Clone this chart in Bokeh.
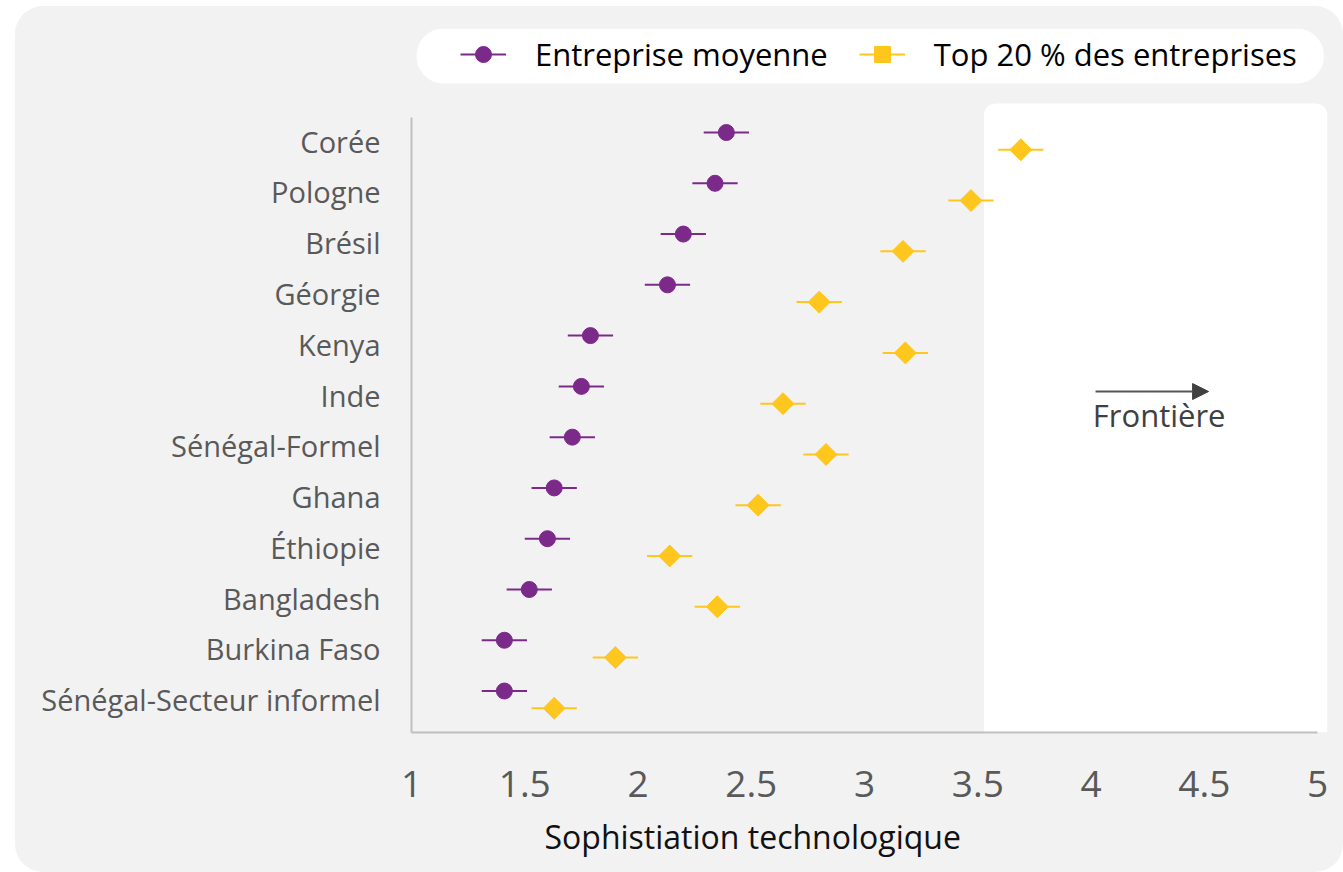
import numpy as np
from bokeh.plotting import figure
from bokeh.models import (Range1d, FixedTicker, NumeralTickFormatter, BoxAnnotation, Label, Title,
                          Arrow, NormalHead, Legend, LegendItem, ColumnDataSource)
from bokeh.embed import file_html
from bokeh.resources import INLINE

# ---------------- data ----------------
countries = ["Corée", "Pologne", "Brésil", "Géorgie", "Kenya", "Inde", "Sénégal-Formel",
             "Ghana", "Éthiopie", "Bangladesh", "Burkina Faso", "Sénégal-Secteur informel"]
average_firm = [2.39, 2.34, 2.20, 2.13, 1.79, 1.75, 1.71, 1.63, 1.60, 1.52, 1.41, 1.41]
average_err = [0.10, 0.10, 0.10, 0.10, 0.10, 0.10, 0.10, 0.10, 0.10, 0.10, 0.10, 0.10]
top20_firms = [3.69, 3.47, 3.17, 2.80, 3.18, 2.64, 2.83, 2.53, 2.14, 2.35, 1.90, 1.63]
top20_err = [0.10, 0.10, 0.10, 0.10, 0.10, 0.10, 0.10, 0.10, 0.10, 0.10, 0.10, 0.10]
series_names = ["Entreprise moyenne", "Top 20 % des entreprises"]
x_ticks = [1, 1.5, 2, 2.5, 3, 3.5, 4, 4.5, 5]
x_title = "Sophistiation technologique"
frontier_label = "Frontière"

# ---------------- style ----------------
PURPLE = "#7c2a8a"
YELLOW = "#ffc61e"
FONT = "Open Sans"
FRONTIER_BOX_LEFT = 3.527

idx = np.arange(len(countries))
OFF = 0.17

src_avg = ColumnDataSource(dict(
    y=idx - OFF, x=average_firm,
    lo=np.array(average_firm) - np.array(average_err),
    hi=np.array(average_firm) + np.array(average_err)))
src_top = ColumnDataSource(dict(
    y=idx + OFF, x=top20_firms,
    lo=np.array(top20_firms) - np.array(top20_err),
    hi=np.array(top20_firms) + np.array(top20_err)))

p = figure(width=1328, height=866,
           x_range=Range1d(1, 5.044), y_range=Range1d(11.647, -2.219),
           output_backend="svg", toolbar_location=None,
           min_border_left=396, min_border_right=16, min_border_top=22, min_border_bottom=140,
           background_fill_color="#f2f2f2", border_fill_alpha=0)
p.margin = (6, 0, 0, 15)
p.styles = {"background-color": "#f2f2f2", "border-radius": "28px"}
p.outline_line_color = None
p.grid.visible = False

# frontier white panel
p.add_layout(BoxAnnotation(left=FRONTIER_BOX_LEFT, top=-0.742, fill_color="white", fill_alpha=1,
                           line_color=None, level="underlay",
                           border_radius=dict(top_left=12, top_right=12, bottom_right=0, bottom_left=0)))
# legend white pill
p.add_layout(BoxAnnotation(left=1.022, right=5.028, bottom=-1.136, fill_color="white", fill_alpha=1,
                           line_color=None, level="underlay", border_radius=27))

seg_a = p.segment(x0="lo", x1="hi", y0="y", y1="y", source=src_avg, line_color=PURPLE, line_width=2)
dot_a = p.scatter(x="x", y="y", source=src_avg, marker="circle", size=16,
                  fill_color=PURPLE, line_color=PURPLE)
seg_t = p.segment(x0="lo", x1="hi", y0="y", y1="y", source=src_top, line_color=YELLOW, line_width=2)
dot_t = p.scatter(x="x", y="y", source=src_top, marker="square", size=15.5, angle=np.pi / 4,
                  fill_color=YELLOW, line_color=YELLOW)

# axes
xa = p.xaxis[0]
xa.ticker = FixedTicker(ticks=x_ticks)
xa.formatter = NumeralTickFormatter(format="0.[0]")
xa.bounds = (1, 5)
xa.axis_line_color = "#bfbfbf"
xa.axis_line_width = 2
xa.major_tick_line_color = None
xa.minor_tick_line_color = None
xa.major_tick_out = 0
xa.major_label_standoff = 38
xa.major_label_text_font = FONT
xa.major_label_text_font_size = "37px"
xa.major_label_text_color = "#595959"

ya = p.yaxis[0]
ya.ticker = FixedTicker(ticks=list(idx))
ya.major_label_overrides = {int(i): c for i, c in zip(idx, countries)}
ya.bounds = (-0.466, 11.647)
ya.axis_line_color = "#bfbfbf"
ya.axis_line_width = 2
ya.major_tick_line_color = None
ya.minor_tick_line_color = None
ya.major_tick_out = 0
ya.major_label_standoff = 31
ya.major_label_text_font = FONT
ya.major_label_text_font_size = "29px"
ya.major_label_text_color = "#595959"

# axis title (as a title placed below the axis)
p.add_layout(Title(text=x_title, align="left", offset=133, standoff=26,
                   text_font=FONT, text_font_size="32px", text_font_style="normal",
                   text_color="#111111"), "below")

# frontier arrow + label
p.add_layout(Arrow(end=NormalHead(size=16, fill_color="#404040", line_color="#404040"),
                   x_start=4.02, y_start=4.931, x_end=4.519, y_end=4.931,
                   line_color="#555555", line_width=2))
p.add_layout(Label(x=4.008, y=5.384, text=frontier_label, text_align="left", text_baseline="middle",
                   text_font=FONT, text_font_size="31px", text_color="#404040"))

legend = Legend(items=[LegendItem(label=series_names[0], renderers=[seg_a, dot_a]),
                       LegendItem(label=series_names[1], renderers=[seg_t, dot_t])],
                orientation="horizontal", location=(49, 657), padding=0, margin=0,
                spacing=31, glyph_width=46, glyph_height=40, label_height=40, label_standoff=29,
                label_text_font=FONT, label_text_font_size="31px", label_text_color="#000000",
                background_fill_alpha=0, border_line_alpha=0)
p.add_layout(legend, "center")

open("out.html", "w").write(file_html(p, INLINE))
